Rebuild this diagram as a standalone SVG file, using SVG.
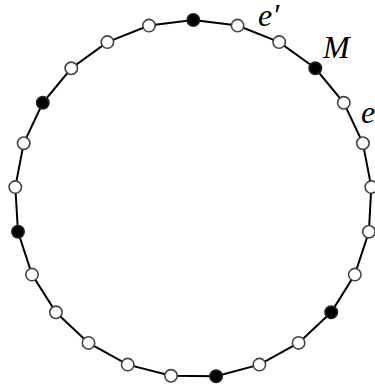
<svg xmlns="http://www.w3.org/2000/svg" width="375" height="389" viewBox="0 0 375 389">
<style>
.edge{stroke:#000;stroke-width:2;fill:none}
.open{fill:#fff;stroke:#444;stroke-width:1.6}
.full{fill:#000;stroke:#222;stroke-width:1.6}
.lbl{font-family:"Liberation Serif",serif;font-style:italic;font-size:32px;fill:#000}
</style>
<rect width="375" height="389" fill="#fff"/>
<g id="connectors">
<polygon class="edge" points="193.3,20 237.6,25.6 279.2,42.1 315.3,68.3 343.8,102.8 362.9,143.2 371.3,187.1 368.9,231.7 354.8,274.6 331.2,312.3 298.6,342.9 259.4,364.6 216.1,376.2 171,375.8 127.7,364.6 88.5,342.9 55.9,312.3 32,274.6 18,231.7 15.3,187.1 23.7,143.2 42.8,102.8 71.3,68.3 107.4,42.1 149,25.6"/>
</g>
<g id="n0"><circle class="full" cx="193.3" cy="20" r="6.2"/></g>
<g id="n1"><circle class="open" cx="237.6" cy="25.6" r="6.2"/></g>
<g id="n2"><circle class="open" cx="279.2" cy="42.1" r="6.2"/></g>
<g id="n3"><circle class="full" cx="315.3" cy="68.3" r="6.2"/></g>
<g id="n4"><circle class="open" cx="343.8" cy="102.8" r="6.2"/></g>
<g id="n5"><circle class="open" cx="362.9" cy="143.2" r="6.2"/></g>
<g id="n6"><circle class="open" cx="371.3" cy="187.1" r="6.2"/></g>
<g id="n7"><circle class="open" cx="368.9" cy="231.7" r="6.2"/></g>
<g id="n8"><circle class="open" cx="354.8" cy="274.6" r="6.2"/></g>
<g id="n9"><circle class="full" cx="331.2" cy="312.3" r="6.2"/></g>
<g id="n10"><circle class="open" cx="298.6" cy="342.9" r="6.2"/></g>
<g id="n11"><circle class="open" cx="259.4" cy="364.6" r="6.2"/></g>
<g id="n12"><circle class="full" cx="216.1" cy="376.2" r="6.2"/></g>
<g id="n13"><circle class="open" cx="171" cy="375.8" r="6.2"/></g>
<g id="n14"><circle class="open" cx="127.7" cy="364.6" r="6.2"/></g>
<g id="n15"><circle class="open" cx="88.5" cy="342.9" r="6.2"/></g>
<g id="n16"><circle class="open" cx="55.9" cy="312.3" r="6.2"/></g>
<g id="n17"><circle class="open" cx="32" cy="274.6" r="6.2"/></g>
<g id="n18"><circle class="full" cx="18" cy="231.7" r="6.2"/></g>
<g id="n19"><circle class="open" cx="15.3" cy="187.1" r="6.2"/></g>
<g id="n20"><circle class="open" cx="23.7" cy="143.2" r="6.2"/></g>
<g id="n21"><circle class="full" cx="42.8" cy="102.8" r="6.2"/></g>
<g id="n22"><circle class="open" cx="71.3" cy="68.3" r="6.2"/></g>
<g id="n23"><circle class="open" cx="107.4" cy="42.1" r="6.2"/></g>
<g id="n24"><circle class="open" cx="149" cy="25.6" r="6.2"/></g>
<g id="labels">
<text class="lbl" x="258" y="26">e′</text>
<text class="lbl" x="323" y="58">M</text>
<text class="lbl" x="361" y="123">e</text>
</g>
</svg>
